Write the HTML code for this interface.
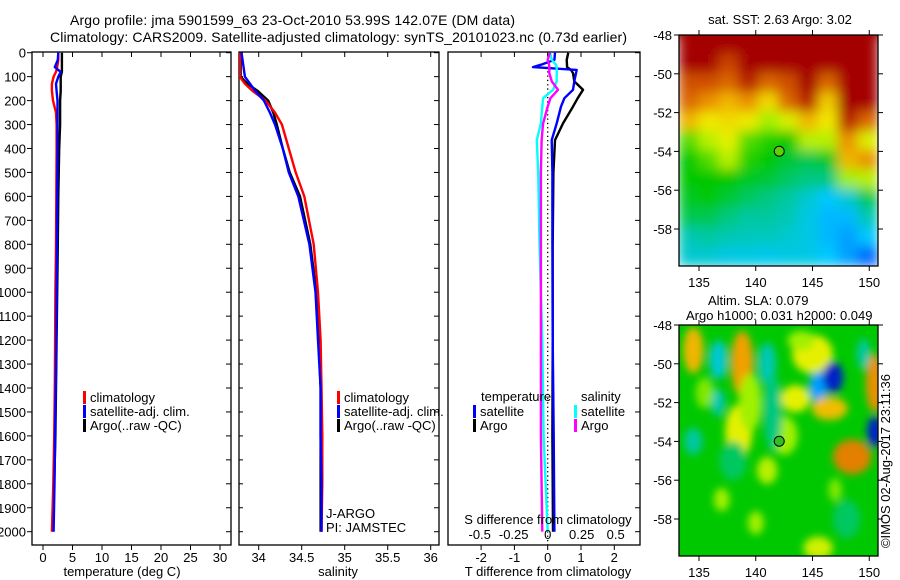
<!DOCTYPE html>
<html><head><meta charset="utf-8">
<style>
html,body{margin:0;padding:0;background:#fff;}
svg{display:block;font-family:"Liberation Sans",sans-serif;}
text{font-size:13px;fill:#000;}
</style></head>
<body>
<svg id="fig" width="900" height="580" viewBox="0 0 900 580" xmlns="http://www.w3.org/2000/svg">
<defs>
<clipPath id="c1"><rect x="32" y="52" width="199" height="493"/></clipPath>
<clipPath id="c2"><rect x="239" y="52" width="200" height="493"/></clipPath>
<clipPath id="c3"><rect x="448" y="52" width="192" height="493"/></clipPath>
<clipPath id="cm1"><rect x="679" y="35" width="199" height="231"/></clipPath>
<clipPath id="cm2"><rect x="679" y="325" width="199" height="231"/></clipPath>
<filter id="blur" x="-10%" y="-10%" width="120%" height="120%"><feGaussianBlur stdDeviation="6"/></filter>
<filter id="blur2" x="-50%" y="-50%" width="200%" height="200%"><feGaussianBlur stdDeviation="4"/></filter>
</defs>
<text x="70" y="25" textLength="445" style="font-size:14px">Argo profile: jma 5901599_63 23-Oct-2010 53.99S 142.07E (DM data)</text>
<text x="50" y="42" textLength="577" style="font-size:14px">Climatology: CARS2009. Satellite-adjusted climatology: synTS_20101023.nc (0.73d earlier)</text>
<g id="g1"></g>
<g id="g2"></g>
<g id="g3"></g>
<g id="m1"></g>
<g id="m2"></g>
<text transform="translate(890,548) rotate(-90)" textLength="174">©IMOS 02-Aug-2017 23:11:36</text>
</svg>
<script>
// ---- data ----
const tDepth = [0,30,60,80,100,130,160,200,250,300,400,600,800,1000,1200,1400,1600,1800,2000];
const tClim = [2.6,2.6,2.4,2.2,1.8,1.5,1.5,1.7,2.2,2.3,2.3,2.25,2.2,2.1,2.05,2.0,1.9,1.75,1.5];
const tSat  = [2.6,2.5,2.0,3.0,2.6,2.2,2.3,2.45,2.45,2.45,2.45,2.4,2.35,2.3,2.25,2.15,2.05,1.95,1.8];
const tArgo = [3.2,3.2,3.2,3.2,3.0,3.0,3.0,2.9,2.9,2.9,2.75,2.6,2.5,2.4,2.3,2.2,2.1,1.9,1.6];
const sDepth = [0,50,100,130,160,200,250,300,400,500,600,800,1000,1200,1400,1600,1800,2000];
const sClim = [33.78,33.78,33.78,33.84,33.93,34.08,34.19,34.27,34.35,34.43,34.53,34.64,34.69,34.72,34.73,34.74,34.74,34.73];
const sSat  = [33.80,33.82,33.84,33.90,33.96,34.06,34.13,34.19,34.28,34.35,34.46,34.59,34.66,34.69,34.72,34.72,34.73,34.73];
const sArgo = [33.79,33.79,33.79,33.87,33.99,34.11,34.17,34.21,34.28,34.36,34.48,34.60,34.67,34.70,34.72,34.72,34.72,34.72];
const dDepth = [0,30,50,60,72,85,120,155,190,225,295,365,500,800,1200,1600,2000];
const dTSat  = [0.22,0.2,-0.2,-0.44,0.87,0.85,0.8,0.76,0.5,0.4,0.27,0.12,0.14,0.14,0.15,0.18,0.2];
const dTArgo = [0.62,0.57,0.58,0.58,0.7,0.76,0.8,1.06,0.9,0.76,0.46,0.22,0.17,0.15,0.15,0.14,0.16];
const dSSat  = [0.017,0.03,0.06,0.066,0.066,0.066,0.066,0.04,-0.034,-0.04,-0.05,-0.08,-0.07,-0.06,-0.04,-0.03,0.0];
const dSArgo = [0.017,0.0,0.01,0.012,0.012,0.012,0.03,0.076,0.02,0.0,-0.034,-0.045,-0.05,-0.05,-0.05,-0.05,-0.04];
const depthTicks = [0,100,200,300,400,500,600,700,800,900,1000,1100,1200,1300,1400,1500,1600,1700,1800,1900,2000];
const tempTicks = [0,5,10,15,20,25,30];
const salTicks = [34,34.5,35,35.5,36];
const salTickLabels = ["34","34.5","35","35.5","36"];
const dTTicks = [-2,-1,0,1,2];
const dSTicks = [-0.5,-0.25,0,0.25,0.5];
const dSTickLabels = ["-0.5","-0.25","0","0.25","0.5"];
const latTicks = [-48,-50,-52,-54,-56,-58];
const lonTicks = [135,140,145,150];
const sstGrid = [
[1,1,1,1,1,1,1,1,1,1],
[1,1,0.9,1,1,1,1,1,1,1],
[0.88,0.88,0.85,0.95,0.85,0.88,1,0.85,1,1],
[0.85,0.8,0.75,0.8,0.7,0.85,0.95,0.72,1,1],
[0.75,0.68,0.7,0.68,0.6,0.65,0.75,0.68,0.95,0.85],
[0.55,0.62,0.66,0.55,0.52,0.5,0.62,0.62,0.8,0.65],
[0.5,0.55,0.62,0.52,0.5,0.47,0.45,0.48,0.75,0.8],
[0.5,0.5,0.5,0.48,0.47,0.44,0.42,0.42,0.6,0.62],
[0.48,0.5,0.47,0.44,0.42,0.4,0.35,0.3,0.35,0.45],
[0.45,0.45,0.42,0.4,0.4,0.38,0.33,0.28,0.28,0.38],
[0.38,0.4,0.38,0.37,0.37,0.35,0.33,0.28,0.25,0.3],
[0.35,0.35,0.33,0.33,0.32,0.33,0.33,0.3,0.25,0.18]];
const slaLon = [134.5,136.7,138.8,138.5,141,136.7,145,143.5,145.5,146.8,146.5,150.5,150.5,148.5,134.5,141,145.5,137,140,149.5,139.5,142.5,144,135.5,147,141.5,138,148];
const slaLat = [-49.3,-49.8,-50,-53.5,-50,-52,-49.5,-51.8,-51.2,-50.7,-52.3,-51,-53.5,-54.8,-54,-55.5,-59.5,-57,-58.2,-49.5,-52,-53.7,-48.8,-51.5,-56.5,-52.5,-55,-58];
const slaVal = [0.75,0.35,0.78,0.66,0.38,0.38,0.66,0.66,0.25,0.06,0.74,0.8,0.06,0.82,0.4,0.62,0.64,0.6,0.6,0.4,0.6,0.6,0.6,0.58,0.58,0.42,0.44,0.44];
const slaRx  = [0.9,0.8,1.0,1.2,0.8,0.6,1.8,1.3,0.8,0.9,1.6,0.8,0.7,1.7,0.8,0.9,1.3,0.7,0.7,0.6,1.0,1.2,1.2,0.8,0.6,0.8,1.2,1.2];
const slaRy  = [1.2,1.0,1.7,1.4,1.1,0.7,1.0,0.7,0.8,0.8,0.6,1.5,0.8,0.9,0.7,0.7,0.6,0.6,0.6,0.8,1.5,1.0,0.5,0.8,0.6,2.0,1.0,1.0];
const argoLon = 142.07, argoLat = -53.99;

const NS="http://www.w3.org/2000/svg";
function mk(parent,tag,attrs,txt){const e=document.createElementNS(NS,tag);for(const k in attrs)e.setAttribute(k,attrs[k]);if(txt!==undefined)e.textContent=txt;parent.appendChild(e);return e;}
const yD = d => 52.7 + d*0.2395;
const xT = v => 43 + v*5.9;
const xS = v => 258.7 + (v-34)*86;
const xDT = v => 547.7 + v*33.3;
const xDS = v => 547.7 + v*136;

function frame(g,x0,x1){
  const r=mk(g,'rect',{x:x0,y:52,width:x1-x0,height:493,fill:'none',stroke:'#000','stroke-width':1.3});
  
  
}
function stepLine(g,xs,ds,fx,color,clip,name){
  let pts=[];
  for(let i=0;i<xs.length;i++){pts.push(fx(xs[i]).toFixed(1)+','+yD(ds[i]).toFixed(1));}
  const p=mk(g,'polyline',{points:pts.join(' '),fill:'none',stroke:color,'stroke-width':2.4,'clip-path':'url(#'+clip+')','stroke-linejoin':'round'});
  
  
}
function legendEntry(g,x,y,color,label){
  const gg=mk(g,'g',{});
  
  
  mk(gg,'rect',{x:x,y:y-11,width:3,height:13,fill:color});
  mk(gg,'text',{x:x+7,y:y},label);
}
const g1=document.getElementById('g1');
frame(g1,32,231);
depthTicks.forEach(d=>{
  const y=yD(d);
  mk(g1,'line',{x1:27,x2:32,y1:y,y2:y,stroke:'#000'});
  mk(g1,'line',{x1:231,x2:226,y1:y,y2:y,stroke:'#000'});
  const t=mk(g1,'text',{x:26,y:y+5,'text-anchor':'end'},String(d));
  
  
});
tempTicks.forEach(v=>{
  const x=xT(v);
  mk(g1,'line',{x1:x,x2:x,y1:545,y2:550,stroke:'#000'});
  mk(g1,'line',{x1:x,x2:x,y1:52,y2:57,stroke:'#000'});
  const t=mk(g1,'text',{x:x,y:562,'text-anchor':'middle'},String(v));
  
  
});
stepLine(g1,tArgo,tDepth,xT,'#000','c1','temp-argo-line');
stepLine(g1,tClim,tDepth,xT,'#f00','c1','temp-climatology-line');
stepLine(g1,tSat,tDepth,xT,'#00f','c1','temp-satellite-line');
legendEntry(g1,83,402,'#f00','climatology');
legendEntry(g1,83,416,'#00f','satellite-adj. clim.');
legendEntry(g1,83,430,'#000','Argo(..raw -QC)');
let tl=mk(g1,'text',{x:122,y:576,'text-anchor':'middle'},'temperature (deg C)');


const g2=document.getElementById('g2');
frame(g2,239,439);
depthTicks.forEach(d=>{const y=yD(d);mk(g2,'line',{x1:439,x2:434,y1:y,y2:y,stroke:'#000'});mk(g2,'line',{x1:239,x2:243,y1:y,y2:y,stroke:'#000'});});
salTicks.forEach((v,i)=>{
  const x=xS(v);
  mk(g2,'line',{x1:x,x2:x,y1:545,y2:550,stroke:'#000'});
  mk(g2,'line',{x1:x,x2:x,y1:52,y2:57,stroke:'#000'});
  const t=mk(g2,'text',{x:x,y:562,'text-anchor':'middle'},salTickLabels[i]);
  
  
});
stepLine(g2,sArgo,sDepth,xS,'#000','c2','salinity-argo-line');
stepLine(g2,sClim,sDepth,xS,'#f00','c2','salinity-climatology-line');
stepLine(g2,sSat,sDepth,xS,'#00f','c2','salinity-satellite-line');
legendEntry(g2,337,402,'#f00','climatology');
legendEntry(g2,337,416,'#00f','satellite-adj. clim.');
legendEntry(g2,337,430,'#000','Argo(..raw -QC)');
mk(g2,'text',{x:326,y:518},'J-ARGO');
mk(g2,'text',{x:326,y:532},'PI: JAMSTEC');
tl=mk(g2,'text',{x:338,y:576,'text-anchor':'middle'},'salinity');


const g3=document.getElementById('g3');
frame(g3,448,640);
depthTicks.forEach(d=>{const y=yD(d);mk(g3,'line',{x1:640,x2:635,y1:y,y2:y,stroke:'#000'});});
dTTicks.forEach(v=>{const x=xDT(v);mk(g3,'line',{x1:x,x2:x,y1:52,y2:57,stroke:'#000'});});
mk(g3,'line',{x1:547.7,x2:547.7,y1:54,y2:545,stroke:'#000','stroke-dasharray':'1.3,3','stroke-width':1.3});
dTTicks.forEach(v=>{
  const x=xDT(v);
  mk(g3,'line',{x1:x,x2:x,y1:545,y2:550,stroke:'#000'});
  const t=mk(g3,'text',{x:x,y:562,'text-anchor':'middle'},v<0?'-'+Math.abs(v):String(v));
  
  
});
stepLine(g3,dTArgo,dDepth,xDT,'#000','c3','t-diff-argo-line');
stepLine(g3,dTSat,dDepth,xDT,'#00f','c3','t-diff-satellite-line');
stepLine(g3,dSSat,dDepth,xDS,'#0ff','c3','s-diff-satellite-line');
stepLine(g3,dSArgo,dDepth,xDS,'#f0f','c3','s-diff-argo-line');
dSTicks.forEach((v,i)=>{
  const t=mk(g3,'text',{x:xDS(v),y:539,'text-anchor':'middle'},dSTickLabels[i]);
  
  
});
mk(g3,'text',{x:548,y:524,'text-anchor':'middle'},'S difference from climatology');
mk(g3,'text',{x:481,y:401},'temperature');
mk(g3,'text',{x:581,y:401},'salinity');
legendEntry(g3,473,416,'#00f','satellite');
legendEntry(g3,473,430,'#000','Argo');
legendEntry(g3,574,416,'#0ff','satellite');
legendEntry(g3,574,430,'#f0f','Argo');
tl=mk(g3,'text',{x:548,y:576,'text-anchor':'middle'},'T difference from climatology');


const stops=[[0,[0,0,160]],[0.15,[0,80,255]],[0.3,[0,200,255]],[0.4,[0,200,160]],[0.5,[0,200,0]],[0.6,[160,240,0]],[0.67,[240,240,0]],[0.78,[240,160,0]],[0.88,[208,80,0]],[1,[165,0,0]]];
function cmap(v){v=Math.max(0,Math.min(1,v));for(let i=1;i<stops.length;i++){if(v<=stops[i][0]){const a=stops[i-1],b=stops[i];const f=(v-a[0])/(b[0]-a[0]);const c=a[1].map((q,k)=>Math.round(q+(b[1][k]-q)*f));return 'rgb('+c.join(',')+')';}}return 'rgb(165,0,0)';}

const lonX = lon => 699 + (lon-135)*11.35;
function mapAxes(g,top,fillc){
  const latY = lat => top + (-48-lat)*19.4;
  mk(g,'rect',{x:679,y:top,width:199,height:231,fill:'none',stroke:'#000','stroke-width':1.3});
  latTicks.forEach(l=>{
    const y=latY(l);
    mk(g,'line',{x1:674,x2:679,y1:y,y2:y,stroke:'#000'});
    mk(g,'line',{x1:878,x2:883,y1:y,y2:y,stroke:'#000'});
    const t=mk(g,'text',{x:672,y:y+5,'text-anchor':'end'},String(l));
    
    
  });
  lonTicks.forEach(l=>{
    const x=lonX(l);
    mk(g,'line',{x1:x,x2:x,y1:top-5,y2:top,stroke:'#000'});
    mk(g,'line',{x1:x,x2:x,y1:top+231,y2:top+236,stroke:'#000'});
    const t=mk(g,'text',{x:x,y:top+252,'text-anchor':'middle'},String(l));
    
    
  });
  const c=mk(g,'circle',{cx:lonX(argoLon),cy:latY(argoLat),r:5,fill:fillc,stroke:'#000','stroke-width':1});
  
  
}
const m1=document.getElementById('m1');
const hm=mk(m1,'g',{'clip-path':'url(#cm1)'});
const hb=mk(hm,'g',{filter:'url(#blur)'});
const cw=199/10, ch=231/12;
sstGrid.forEach((row,r)=>row.forEach((v,c)=>{
  const cell=mk(hb,'rect',{x:679+c*cw-0.5,y:35+r*ch-0.5,width:cw+1,height:ch+1,fill:cmap(v)});
  
  
}));
mk(hb,'rect',{x:660,y:5,width:240,height:31,fill:cmap(1)});
mapAxes(m1,35,'#60d000');
mk(m1,'text',{x:780,y:24,'text-anchor':'middle'},'sat. SST: 2.63 Argo: 3.02');
const m2=document.getElementById('m2');
const sm=mk(m2,'g',{'clip-path':'url(#cm2)'});
mk(sm,'rect',{x:679,y:325,width:199,height:231,fill:cmap(0.5)});
const sb=mk(sm,'g',{filter:'url(#blur2)'});
slaLon.forEach((lon,i)=>{
  const cy=325+(-48-slaLat[i])*19.4;
  const e=mk(sb,'ellipse',{cx:lonX(lon),cy:cy,rx:slaRx[i]*11.35,ry:slaRy[i]*19.4,fill:cmap(slaVal[i])});
  
  
});
mapAxes(m2,325,'#30c020');
mk(m2,'text',{x:708,y:305},'Altim. SLA: 0.079');
mk(m2,'text',{x:686,y:320},'Argo h1000: 0.031 h2000: 0.049');
</script>
</body></html>
